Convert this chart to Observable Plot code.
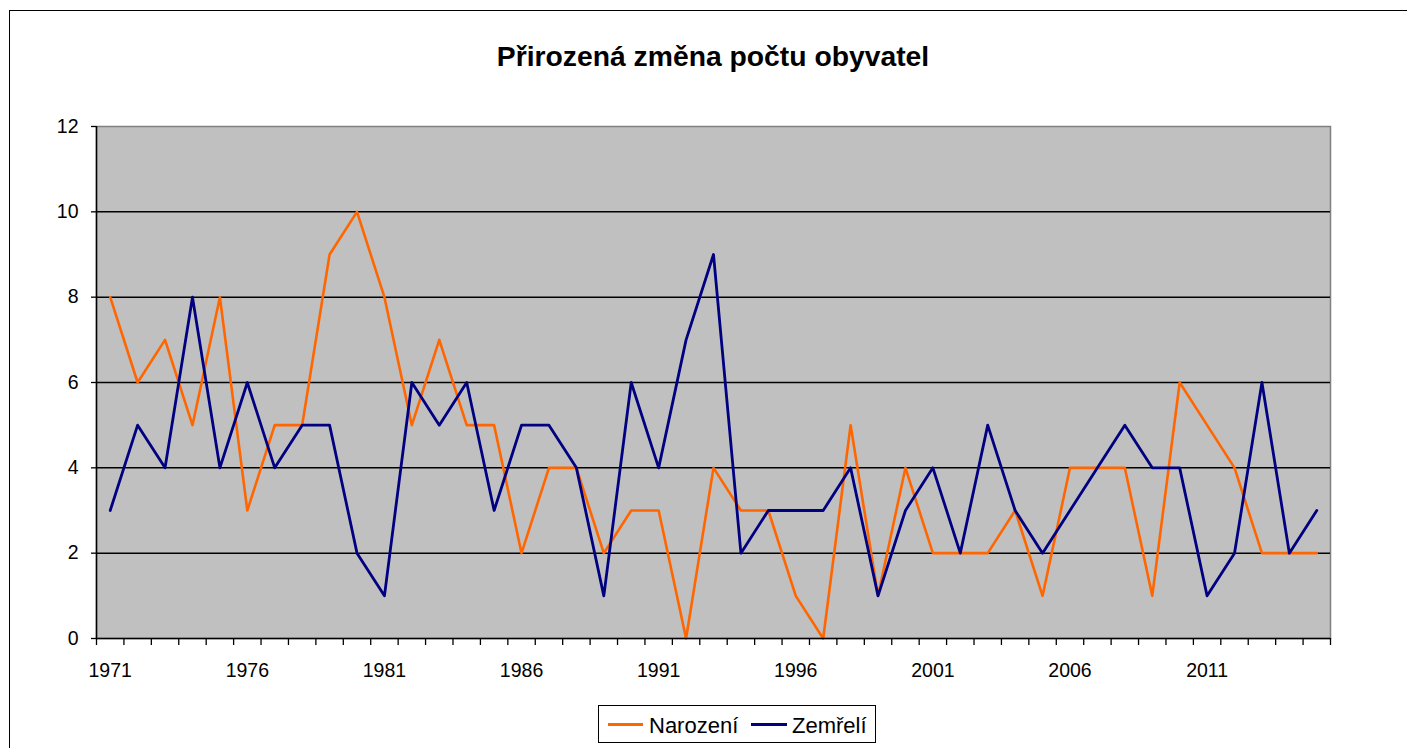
<!DOCTYPE html>
<html>
<head>
<meta charset="utf-8">
<script src="https://cdn.jsdelivr.net/npm/d3@7"></script>
<script src="https://cdn.jsdelivr.net/npm/@observablehq/plot@0.6"></script>
<style>
  html, body { margin: 0; padding: 0; background: #fff; overflow: hidden; }
  body { width: 1407px; height: 748px; position: relative; font-family: "Liberation Sans", Arial, sans-serif; color: #000; }
  #border { position: absolute; left: 9px; top: 10px; width: 1600px; height: 1000px; border: 1.5px solid #000; z-index: 10; pointer-events: none; }
  #title { position: absolute; left: 96px; width: 1234px; top: 42px; text-align: center; font-weight: bold; font-size: 28.3px; line-height: 28px; white-space: nowrap; }
  #chart { position: absolute; left: 0; top: 90px; }
  #legend { position: absolute; left: 598px; top: 705px; width: 278px; height: 38px; border: 1px solid #000; box-sizing: border-box; background: #fff; }
  #legend .sw { position: absolute; top: 16.5px; height: 3px; }
  #legend .lb { position: absolute; top: 8.7px; font-size: 22px; line-height: 22px; white-space: nowrap; }
</style>
</head>
<body>
<div id="border"></div>
<div id="title"></div>
<div id="chart"></div>
<div id="legend"></div>
<script>
const titleText = "Přirozená změna počtu obyvatel";
const seriesNames = ["Narození", "Zemřelí"];
const seriesColors = ["#ff6600", "#000080"];
const years = [1971,1972,1973,1974,1975,1976,1977,1978,1979,1980,
               1981,1982,1983,1984,1985,1986,1987,1988,1989,1990,
               1991,1992,1993,1994,1995,1996,1997,1998,1999,2000,
               2001,2002,2003,2004,2005,2006,2007,2008,2009,2010,
               2011,2012,2013,2014,2015];
const narozeni = [8,6,7,5,8,3,5,5,9,10,
                  8,5,7,5,5,2,4,4,2,3,
                  3,0,4,3,3,1,0,5,1,4,
                  2,2,2,3,1,4,4,4,1,6,
                  5,4,2,2,2];
const zemreli = [3,5,4,8,4,6,4,5,5,2,
                 1,6,5,6,3,5,5,4,1,6,
                 4,7,9,2,3,3,3,4,1,3,
                 4,2,5,3,2,3,4,5,4,4,
                 1,2,6,2,3];
const xTickLabels = [1971,1976,1981,1986,1991,1996,2001,2006,2011];
const yTicks = [0,2,4,6,8,10,12];
const yGrid = [2,4,6,8,10];

const table = years.map((year, i) => ({year, narozeni: narozeni[i], zemreli: zemreli[i]}));
const xDomain = [years[0] - 0.5, years[years.length - 1] + 0.5];
const boundaries = years.map(y => y - 0.5).concat([years[years.length - 1] + 0.5]);

document.getElementById("title").textContent = titleText;

const chart = Plot.plot({
  width: 1407,
  height: 610,
  marginLeft: 96,
  marginRight: 77,
  marginTop: 36,
  marginBottom: 62,
  style: {background: "none", fontFamily: "'Liberation Sans', Arial, sans-serif", fontSize: "19.5px", color: "#000", overflow: "visible"},
  x: {type: "linear", domain: xDomain, label: null},
  y: {type: "linear", domain: [0, 12], label: null},
  marks: [
    Plot.frame({fill: "#c0c0c0", stroke: "#808080", strokeWidth: 1.5}),
    Plot.ruleY(yGrid, {stroke: "#000", strokeWidth: 1.5}),
    Plot.line(table, {x: "year", y: "narozeni", stroke: seriesColors[0], strokeWidth: 2.6}),
    Plot.line(table, {x: "year", y: "zemreli", stroke: seriesColors[1], strokeWidth: 2.8}),
    Plot.ruleX([xDomain[0]], {stroke: "#000", strokeWidth: 1.5}),
    Plot.ruleY([0], {stroke: "#000", strokeWidth: 1.5}),
    Plot.axisY({ticks: yTicks, tickSize: 5, tickPadding: 13, label: null, tickFormat: d => String(d), stroke: "#000", strokeWidth: 1.3}),
    Plot.axisX({ticks: boundaries, tickSize: 7, tickPadding: 0, label: null, tickFormat: () => "", stroke: "#000", strokeWidth: 1.3}),
    Plot.axisX({ticks: xTickLabels, tickSize: 0, tickPadding: 25, label: null, tickFormat: d => String(d)})
  ]
});
document.getElementById("chart").appendChild(chart);

const legend = document.getElementById("legend");
const swLeft = [9, 152], swWidth = [35, 36], lbLeft = [50, 193];
seriesNames.forEach((name, i) => {
  const sw = document.createElement("div");
  sw.className = "sw";
  sw.style.left = swLeft[i] + "px";
  sw.style.width = swWidth[i] + "px";
  sw.style.background = seriesColors[i];
  legend.appendChild(sw);
  const lb = document.createElement("div");
  lb.className = "lb";
  lb.style.left = lbLeft[i] + "px";
  lb.textContent = name;
  legend.appendChild(lb);
});
</script>
</body>
</html>
